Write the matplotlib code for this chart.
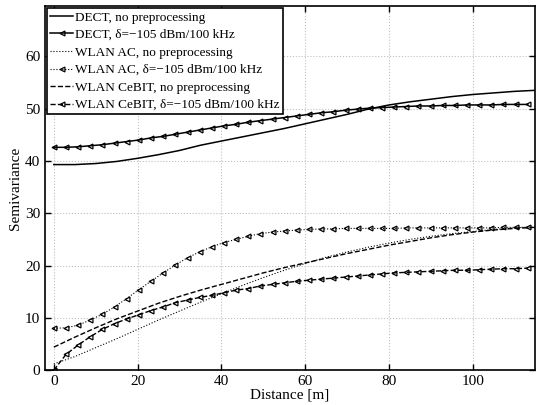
import matplotlib
matplotlib.use('Agg')
import matplotlib.pyplot as plt

plt.rcParams['font.family'] = ['Liberation Serif', 'DejaVu Serif']
plt.rcParams['mathtext.fontset'] = 'stix'

# lag bins of the preprocessed variograms
x_lag = [0, 2.9, 5.8, 8.7, 11.6, 14.5, 17.4, 20.3, 23.2, 26.1, 29.0, 31.9, 34.8, 37.7,
         40.6, 43.5, 46.4, 49.3, 52.2, 55.1, 58.0, 60.9, 63.8, 66.7, 69.6, 72.5, 75.4,
         78.3, 81.2, 84.1, 87.0, 89.9, 92.8, 95.7, 98.6, 101.5, 104.4, 107.3, 110.2, 113.1]

# distances for the curves without preprocessing
x_raw = [0, 5, 10, 15, 20, 25, 30, 35, 40, 45, 50, 55, 60, 65, 70, 75, 80, 85, 90,
         95, 100, 105, 110, 115]

dect_raw = [39.3, 39.3, 39.5, 39.9, 40.5, 41.2, 42.0, 43.0, 43.8, 44.6, 45.4, 46.2,
            47.1, 48.0, 48.9, 49.9, 50.7, 51.3, 51.8, 52.3, 52.7, 53.0, 53.3, 53.5]

dect_pre = [42.6, 42.6, 42.7, 42.9, 43.1, 43.4, 43.7, 44.0, 44.4, 44.7, 45.1, 45.5,
            45.9, 46.3, 46.7, 47.0, 47.4, 47.7, 48.0, 48.3, 48.6, 48.9, 49.2, 49.4,
            49.7, 49.9, 50.1, 50.2, 50.3, 50.4, 50.5, 50.5, 50.6, 50.6, 50.7, 50.7,
            50.7, 50.8, 50.8, 50.8]

ac_raw = [1.2, 2.6, 4.3, 6.0, 7.8, 9.6, 11.3, 13.0, 14.6, 16.2, 17.7, 19.1, 20.4,
          21.6, 22.6, 23.5, 24.3, 25.0, 25.6, 26.1, 26.5, 26.9, 27.2, 27.4]

ac_pre = [8.0, 8.1, 8.6, 9.6, 10.7, 12.1, 13.7, 15.4, 17.0, 18.6, 20.1, 21.5, 22.6,
          23.6, 24.4, 25.0, 25.6, 26.1, 26.4, 26.6, 26.8, 26.9, 27.0, 27.0, 27.1,
          27.1, 27.1, 27.1, 27.1, 27.2, 27.2, 27.2, 27.2, 27.2, 27.2, 27.2, 27.2,
          27.3, 27.3, 27.3]

cebit_raw = [4.4, 6.3, 8.1, 9.8, 11.3, 12.8, 14.1, 15.3, 16.4, 17.5, 18.6, 19.6, 20.5,
             21.4, 22.3, 23.1, 23.9, 24.6, 25.3, 25.9, 26.4, 26.8, 27.1, 27.3]

cebit_pre = [0.0, 3.0, 4.8, 6.4, 7.8, 8.9, 9.8, 10.6, 11.4, 12.1, 12.9, 13.4, 13.9,
             14.3, 14.8, 15.3, 15.6, 16.1, 16.4, 16.7, 17.0, 17.2, 17.4, 17.6, 17.8,
             18.0, 18.2, 18.4, 18.6, 18.7, 18.8, 18.9, 19.0, 19.1, 19.1, 19.2, 19.3,
             19.4, 19.4, 19.5]

fig = plt.figure(figsize=(5.36, 4.05), dpi=100)
ax = fig.add_axes([0.084, 0.086, 0.914, 0.899])

mk = dict(marker='<', markersize=3.5, markerfacecolor='none', markeredgewidth=0.9)
ax.plot(x_raw, dect_raw, '-', color='k', lw=1.1, label='DECT, no preprocessing')
ax.plot(x_lag, dect_pre, '-', color='k', lw=1.1, label='DECT, δ=−105 dBm/100 kHz', **mk)
ax.plot(x_raw, ac_raw, ':', color='k', lw=0.8, label='WLAN AC, no preprocessing')
ax.plot(x_lag, ac_pre, ':', color='k', lw=0.8, label='WLAN AC, δ=−105 dBm/100 kHz', **mk)
ax.plot(x_raw, cebit_raw, '--', color='k', lw=1.0, label='WLAN CeBIT, no preprocessing')
ax.plot(x_lag, cebit_pre, '--', color='k', lw=1.0, label='WLAN CeBIT, δ=−105 dBm/100 kHz', **mk)

ax.set_xlim(-2.1, 114.8)
ax.set_ylim(0, 69.6)
ax.set_xticks([0, 20, 40, 60, 80, 100])
ax.set_yticks([0, 10, 20, 30, 40, 50, 60])
ax.grid(True, linestyle=':', color='#c0c0c0', lw=0.8)
ax.tick_params(direction='in', top=True, right=True, labelsize=11, length=4, width=1)
for s in ax.spines.values():
    s.set_linewidth(1.2)

ax.set_xlabel('Distance [m]', fontsize=11, labelpad=0)
ax.set_ylabel('Semivariance', fontsize=11, labelpad=2)

leg = ax.legend(loc='upper left', fontsize=9.5, numpoints=1, handlelength=1.7,
                handletextpad=0.15, labelspacing=0.4, borderpad=0.25,
                borderaxespad=0.15, fancybox=False, framealpha=1, edgecolor='k')
leg.get_frame().set_linewidth(1.2)

fig.savefig('out.png', dpi=100)
